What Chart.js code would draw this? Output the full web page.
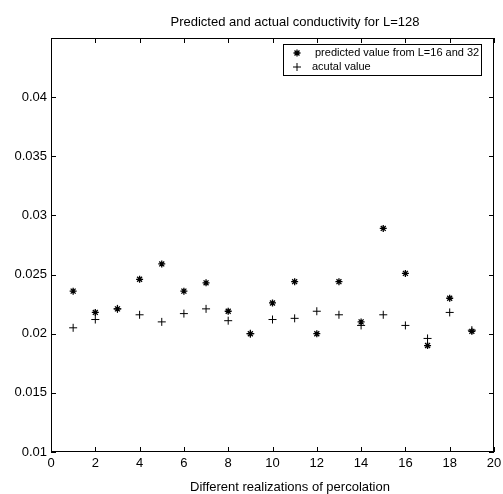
<!DOCTYPE html>
<html>
<head>
<meta charset="utf-8">
<script src="https://cdn.jsdelivr.net/npm/chart.js@4/dist/chart.umd.min.js"></script>
<style>
  html, body { margin: 0; padding: 0; background: #fff; }
  #plot { display: block; }
</style>
</head>
<body>
<canvas id="plot" width="503" height="494"></canvas>
<script>
// Realization index and conductivity values
const realizations = [1, 2, 3, 4, 5, 6, 7, 8, 9, 10, 11, 12, 13, 14, 15, 16, 17, 18, 19];
const predicted = [0.0236, 0.0218, 0.0221, 0.0246, 0.0259, 0.0236, 0.0243, 0.0219, 0.0200, 0.0226,
                   0.0244, 0.0200, 0.0244, 0.0210, 0.0289, 0.0251, 0.0190, 0.0230, 0.0202];
const actual = [0.0205, 0.0212, 0.0221, 0.0216, 0.0210, 0.0217, 0.0221, 0.0211, 0.0200, 0.0212,
                0.0213, 0.0219, 0.0216, 0.0207, 0.0216, 0.0207, 0.0196, 0.0218, 0.0203];
const legendLabels = ['predicted value from L=16 and 32', 'acutal value'];

const FONT = '"Liberation Sans", Arial, Helvetica, sans-serif';

function toPoints(values) {
    return realizations.map((x, i) => ({ x: x, y: values[i] }));
}

// Frame box, inward ticks on every side, title, x label and legend
const framePlugin = {
    id: 'frame',
    afterDraw(chart) {
        const ctx = chart.ctx;
        const area = chart.chartArea;
        const xs = chart.scales.x;
        const ys = chart.scales.y;
        const tick = 5;

        ctx.save();
        ctx.strokeStyle = '#000';
        ctx.lineWidth = 1;
        ctx.strokeRect(area.left + 0.5, area.top + 0.5, area.width - 1, area.height - 1);

        ctx.beginPath();
        xs.ticks.forEach(t => {
            const px = Math.round(xs.getPixelForValue(t.value)) + 0.5;
            ctx.moveTo(px, area.bottom);
            ctx.lineTo(px, area.bottom - tick);
            ctx.moveTo(px, area.top);
            ctx.lineTo(px, area.top + tick);
        });
        ys.ticks.forEach(t => {
            const py = Math.round(ys.getPixelForValue(t.value)) + 0.5;
            ctx.moveTo(area.left, py);
            ctx.lineTo(area.left + tick, py);
            ctx.moveTo(area.right, py);
            ctx.lineTo(area.right - tick, py);
        });
        ctx.stroke();

        // title and x-axis label
        ctx.fillStyle = '#000';
        ctx.textAlign = 'center';
        ctx.textBaseline = 'middle';
        ctx.font = '13px ' + FONT;
        ctx.fillText('Predicted and actual conductivity for L=128', 295, 22);
        ctx.fillText('Different realizations of percolation', 290, 487);

        // legend
        const lx = 283, ly = 44, lw = 198, lh = 31;
        ctx.fillStyle = '#fff';
        ctx.fillRect(lx, ly, lw, lh);
        ctx.strokeRect(lx + 0.5, ly + 0.5, lw, lh);
        ctx.fillStyle = '#000';
        ctx.font = '11px ' + FONT;
        ctx.textAlign = 'left';
        const ds = chart.data.datasets;
        [53, 67].forEach((cy, i) => {
            ctx.strokeStyle = '#000';
            ctx.lineWidth = ds[i].borderWidth;
            Chart.helpers.drawPoint(ctx, {
                pointStyle: ds[i].pointStyle,
                radius: ds[i].pointRadius,
                borderWidth: ds[i].borderWidth
            }, 297, cy);
            ctx.fillText(legendLabels[i], i === 0 ? 315 : 312, cy);
        });
        ctx.restore();
    }
};

new Chart(document.getElementById('plot'), {
    type: 'scatter',
    data: {
        datasets: [
            {
                label: legendLabels[0],
                data: toPoints(predicted),
                pointStyle: 'star',
                pointRadius: 3.5,
                borderWidth: 1.3,
                borderColor: '#000',
                backgroundColor: '#000'
            },
            {
                label: legendLabels[1],
                data: toPoints(actual),
                pointStyle: 'cross',
                pointRadius: 4,
                borderWidth: 1,
                borderColor: '#000',
                backgroundColor: '#000'
            }
        ]
    },
    options: {
        responsive: false,
        animation: false,
        layout: { padding: { left: 0, right: 9, top: 38, bottom: 0 } },
        plugins: {
            legend: { display: false },
            title: { display: false },
            tooltip: { enabled: false }
        },
        scales: {
            x: {
                type: 'linear',
                min: 0,
                max: 20,
                grid: { display: false, drawTicks: false },
                border: { display: false },
                ticks: {
                    stepSize: 2,
                    color: '#000',
                    padding: 4,
                    maxRotation: 0,
                    font: { family: FONT, size: 13 }
                },
                afterFit(scale) {
                    scale.height = 42;
                    scale.paddingLeft = 0;
                    scale.paddingRight = 0;
                }
            },
            y: {
                type: 'linear',
                min: 0.01,
                max: 0.045,
                grid: { display: false, drawTicks: false },
                border: { display: false },
                ticks: {
                    stepSize: 0.005,
                    color: '#000',
                    padding: 4,
                    font: { family: FONT, size: 13 },
                    callback: v => {
                        const r = Math.round(v * 1000) / 1000;
                        return r > 0.0449 ? '' : String(r);
                    }
                },
                afterFit(scale) {
                    scale.width = 51;
                    scale.paddingTop = 0;
                    scale.paddingBottom = 0;
                }
            }
        }
    },
    plugins: [framePlugin]
});
</script>
</body>
</html>
